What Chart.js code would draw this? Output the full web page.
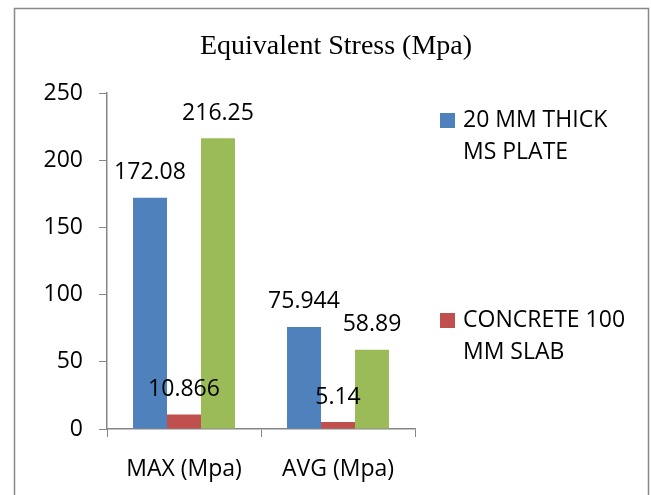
<!DOCTYPE html>
<html>
<head>
<meta charset="utf-8">
<script src="https://cdn.jsdelivr.net/npm/chart.js@4.4.0/dist/chart.umd.min.js"></script>
<style>
  html, body { margin: 0; padding: 0; background: #fff; overflow: hidden; }
  #wrap { width: 651px; height: 495px; }
</style>
</head>
<body>
<div id="wrap"><canvas id="grafico" width="651" height="495"></canvas></div>
<script>
const categorias = ['MAX (Mpa)', 'AVG (Mpa)'];
const nomesSeries = [
    ['20 MM THICK', 'MS PLATE'],
    ['CONCRETE 100', 'MM SLAB'],
    ['COMPOSITE', 'SLAB']
];
const valoresPlaca = [172.08, 75.944];
const valoresConcreto = [10.866, 5.14];
const valoresTerceira = [216.25, 58.89];
const ticksY = [0, 50, 100, 150, 200, 250];
const titulo = 'Equivalent Stress (Mpa)';

const cores = ['#4f81bd', '#c0504d', '#9bbb59'];
const fonteSans = 'Open Sans';
const cinzaEixo = '#868686';

// moldura + titulo (titulo centrado na moldura, nao na area de plotagem)
const molduraPlugin = {
    id: 'moldura',
    beforeDraw(chart) {
        const ctx = chart.ctx;
        ctx.save();
        ctx.fillStyle = '#fff';
        ctx.fillRect(0, 0, chart.width, chart.height);
        ctx.strokeStyle = '#888';
        ctx.lineWidth = 1.5;
        ctx.strokeRect(14.5, 8.5, 634, 600);
        ctx.font = '28px "Liberation Serif"';
        ctx.fillStyle = '#000';
        ctx.textAlign = 'center';
        ctx.textBaseline = 'alphabetic';
        ctx.fillText(titulo, 336, 54);
        ctx.restore();
    }
};

// rotulos de valor acima das barras
const rotulosPlugin = {
    id: 'rotulos',
    afterDatasetsDraw(chart) {
        const ctx = chart.ctx;
        ctx.save();
        ctx.font = `23px "${fonteSans}"`;
        ctx.fillStyle = '#000';
        ctx.textAlign = 'center';
        ctx.textBaseline = 'middle';
        chart.data.datasets.forEach((ds, i) => {
            chart.getDatasetMeta(i).data.forEach((bar, j) => {
                ctx.fillText(String(ds.data[j]), bar.x, bar.y - 25);
            });
        });
        ctx.restore();
    }
};

// legenda a direita com texto em duas linhas
const legendaPlugin = {
    id: 'legenda',
    afterDraw(chart) {
        const ctx = chart.ctx;
        const x = 440, y0 = 120, passo = 200, linha = 32;
        ctx.save();
        ctx.font = `23px "${fonteSans}"`;
        ctx.textBaseline = 'middle';
        ctx.textAlign = 'left';
        chart.data.datasets.forEach((ds, i) => {
            const y = y0 + i * passo;
            ctx.fillStyle = ds.backgroundColor;
            ctx.fillRect(x, y - 7, 15, 15);
            ctx.fillStyle = '#000';
            nomesSeries[i].forEach((txt, k) => ctx.fillText(txt, x + 23, y + k * linha));
        });
        ctx.restore();
    }
};

Chart.defaults.font.family = fonteSans;
Chart.defaults.color = '#000';

const ctx = document.getElementById('grafico').getContext('2d');
new Chart(ctx, {
    type: 'bar',
    data: {
        labels: categorias,
        datasets: [
            { label: nomesSeries[0].join(' '), data: valoresPlaca, backgroundColor: cores[0] },
            { label: nomesSeries[1].join(' '), data: valoresConcreto, backgroundColor: cores[1] },
            { label: nomesSeries[2].join(' '), data: valoresTerceira, backgroundColor: cores[2] }
        ]
    },
    options: {
        responsive: false,
        animation: false,
        categoryPercentage: 0.662,
        barPercentage: 1,
        layout: { padding: { left: 0, right: 236, top: 93, bottom: 0 } },
        plugins: {
            legend: { display: false },
            tooltip: { enabled: false },
            title: { display: false }
        },
        scales: {
            x: {
                grid: { drawOnChartArea: false, tickLength: 8, color: cinzaEixo },
                border: { color: cinzaEixo, width: 1.5 },
                ticks: { font: { size: 23 }, padding: 19, color: '#000' },
                afterFit(scale) { scale.height = 66; }
            },
            y: {
                min: 0,
                max: 250,
                afterBuildTicks(scale) { scale.ticks = ticksY.map(v => ({ value: v })); },
                grid: { drawOnChartArea: false, tickLength: 8, color: cinzaEixo },
                border: { color: cinzaEixo, width: 1.5 },
                ticks: { font: { size: 23 }, padding: 16, color: '#000' },
                afterFit(scale) { scale.width = 107; }
            }
        }
    },
    plugins: [molduraPlugin, rotulosPlugin, legendaPlugin]
});
</script>
</body>
</html>
